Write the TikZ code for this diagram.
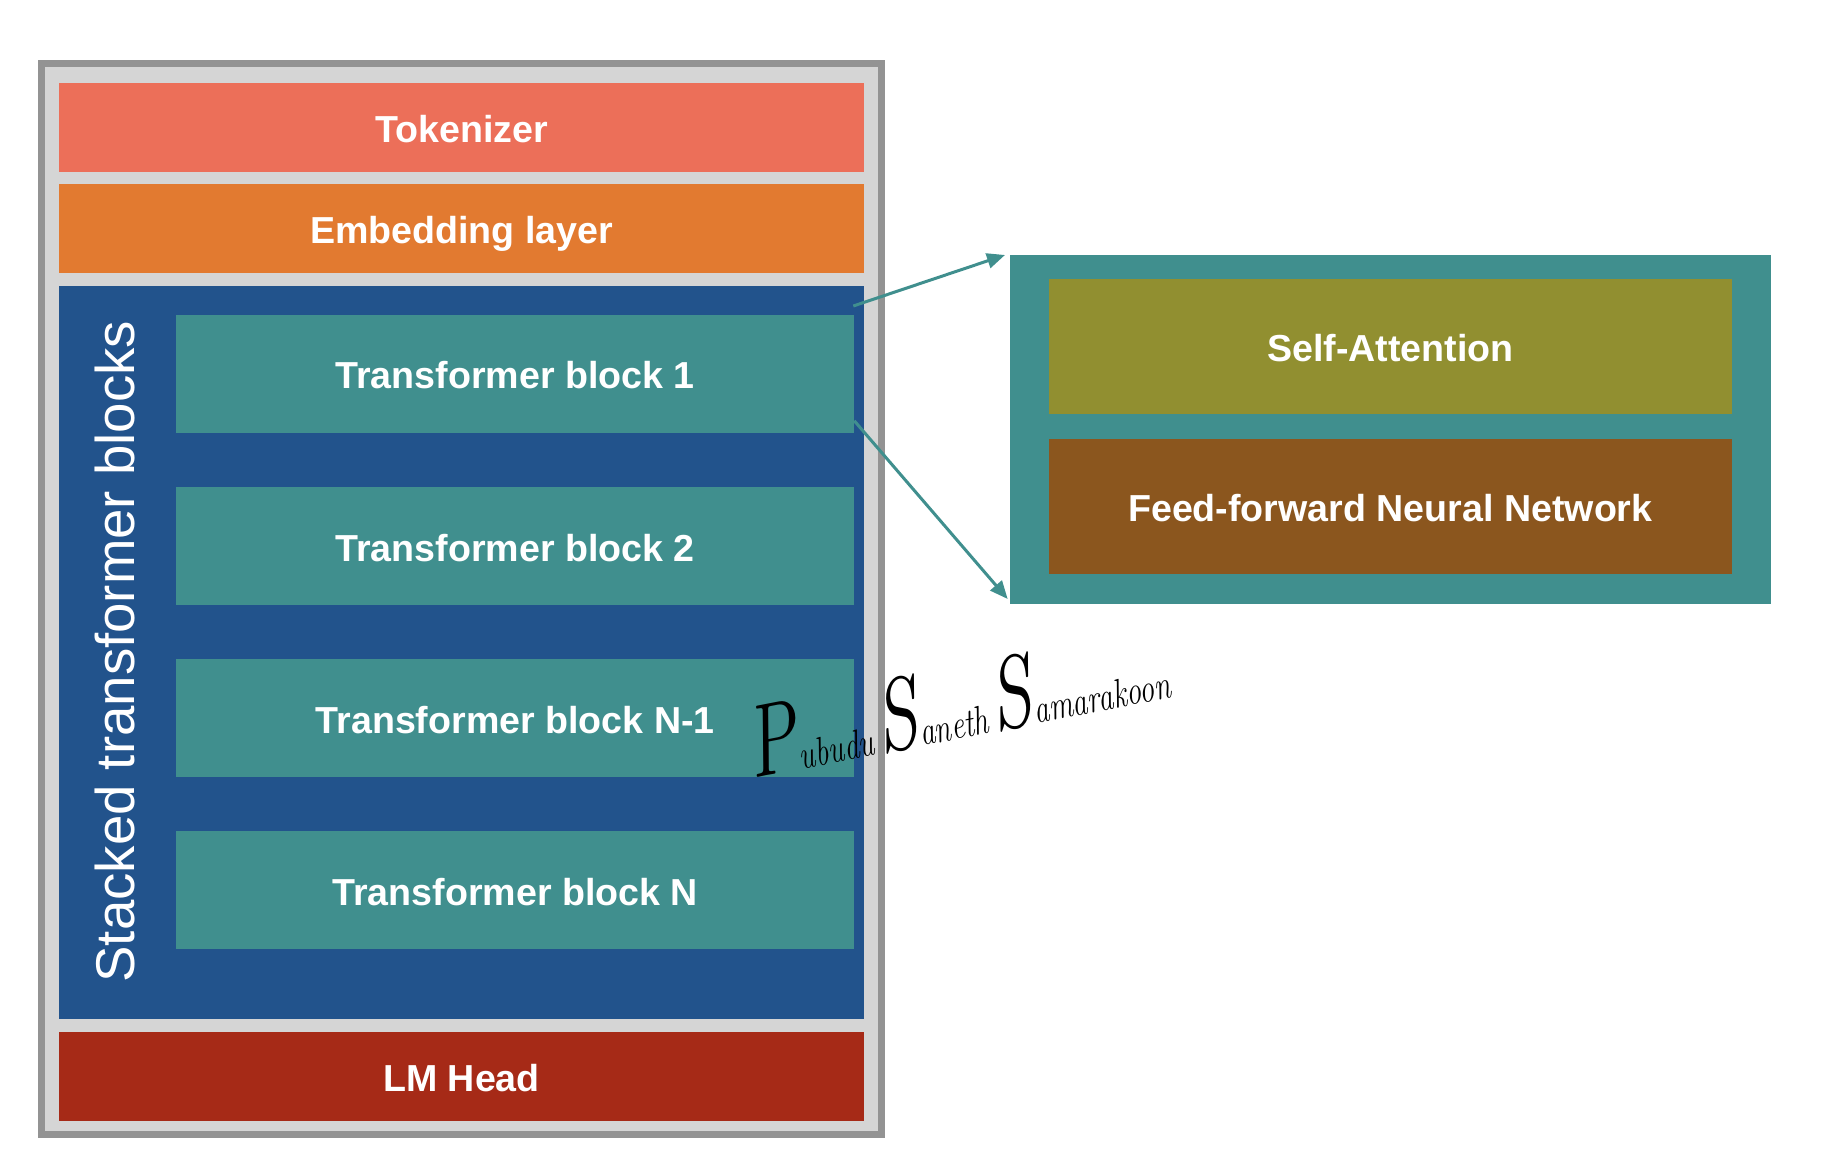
\documentclass[tikz,border=0pt]{standalone}
\usepackage{fontspec}
\newfontfamily\lab{Liberation Sans}
\usetikzlibrary{arrows.meta}
\definecolor{framegray}{HTML}{939393}
\definecolor{framefill}{HTML}{D5D5D5}
\definecolor{tokc}{HTML}{EC6F59}
\definecolor{embc}{HTML}{E27A30}
\definecolor{bluec}{HTML}{22538C}
\definecolor{tealc}{HTML}{408F8E}
\definecolor{olivec}{HTML}{918F30}
\definecolor{brownc}{HTML}{8B561E}
\definecolor{lmc}{HTML}{A62A17}
\newcommand{\sigcap}[1]{{\fontsize{38}{38}\selectfont #1}}
\newcommand{\siglow}[1]{{\fontsize{15}{15}\selectfont #1}}
\begin{document}
\begin{tikzpicture}[x=0.5pt,y=-0.5pt,
  blk/.style={inner sep=0pt, outer sep=0pt, text=white,
    font=\lab\bfseries\fontsize{18.8}{22}\selectfont,
    text height=15pt, text depth=0pt},
  wide/.style={blk, minimum width=402.35pt, minimum height=44.5pt},
  tblock/.style={blk, fill=tealc, minimum width=339.15pt, minimum height=58.9pt},
  sub/.style={blk, minimum width=341.15pt, minimum height=67.6pt},
  conn/.style={draw=tealc, line width=1.5pt, -{Triangle[length=9pt,width=7.5pt]}},
  sig/.style={inner sep=0pt, text=black, font=\itshape, rotate=11, yscale=1.35, anchor=base west}
]
\useasboundingbox (0,0) rectangle (1822,1160);
% outer frame
\node[draw=framegray, fill=framefill, line width=3.75pt, inner sep=0pt,
  minimum width=420.1pt, minimum height=535.3pt] (frame) at (461.6,599) {};
% layers
\node[wide, fill=tokc] (tok) at (461.65,128) {Tokenizer};
\node[wide, fill=embc] (emb) at (461.65,229) {Embedding layer};
\node[blk, fill=bluec, minimum width=402.25pt, minimum height=366.9pt] (stack) at (461.25,652.5) {};
\node[wide, fill=lmc] (lm) at (461.5,1076.4) {LM Head};
\node[inner sep=0pt, outer sep=0pt, rotate=90, text=white,
  font=\lab\fontsize{27.3}{30}\selectfont, text height=19.5pt, text depth=0pt]
  (stl) at (114.5,651.7) {Stacked transformer blocks};
\node[tblock] (tb1) at (515.15,373.9) {Transformer block 1};
\node[tblock] (tb2) at (515.15,546.35) {Transformer block 2};
\node[tblock] (tbn1) at (515.15,718.15) {Transformer block N-1};
\node[tblock] (tbn) at (515.15,890.15) {Transformer block N};
% detail box
\node[blk, fill=tealc, minimum width=380.35pt, minimum height=174.5pt] (detail) at (1390.35,429.5) {};
\node[sub, fill=olivec] (attn) at (1390.35,346.65) {Self-Attention};
\node[sub, fill=brownc] (ffn) at (1390.35,506.2) {Feed-forward Neural Network};
% connectors
\draw[conn] ([shift={(-1,-9)}]tb1.north east) -- ([shift={(-5,0)}]detail.north west);
\draw[conn] ([shift={(0,-12)}]tb1.south east) -- ([shift={(-2.3,-5)}]detail.south west);
% signature
\node[sig] (sign) at (752,779) {\sigcap{P}\siglow{ubudu\,}\sigcap{S}\siglow{aneth\,}\sigcap{S}\siglow{amarakoon}};
\end{tikzpicture}
\end{document}
